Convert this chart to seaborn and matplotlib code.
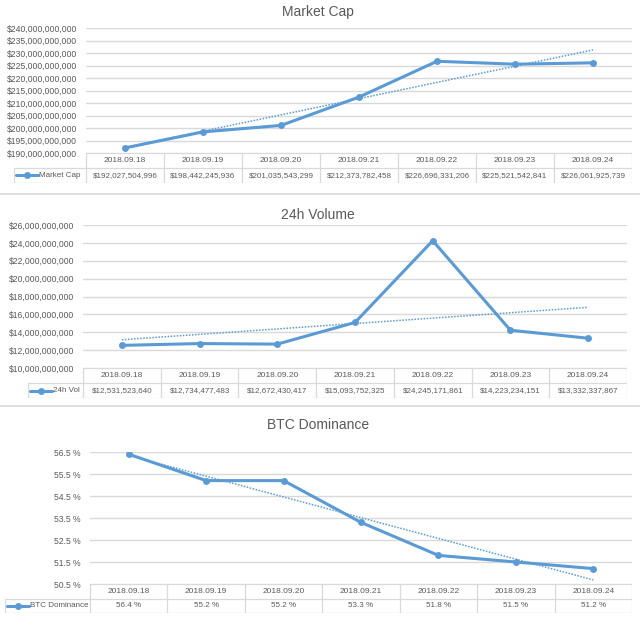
import matplotlib
matplotlib.use("Agg")
import matplotlib.pyplot as plt
import seaborn as sns
import numpy as np
import pandas as pd

# data
dates = ["2018.09.18", "2018.09.19", "2018.09.20", "2018.09.21",
         "2018.09.22", "2018.09.23", "2018.09.24"]
market_cap = [192027504996, 198442245936, 201035543299, 212373782458,
              226696331206, 225521542841, 226061925739]
volume_24h = [12531523640, 12734477483, 12672430417, 15093752325,
              24245171861, 14223234151, 13332337867]
btc_dominance = [56.4, 55.2, 55.2, 53.3, 51.8, 51.5, 51.2]

sns.set_style("white")
plt.rcParams["font.family"] = ["Liberation Sans", "DejaVu Sans"]

BLUE = "#5B9BD5"
GRID = "#D9D9D9"
TXT = "#595959"
W, H = 640, 625

fig = plt.figure(figsize=(6.4, 6.25), dpi=100)


def px_axes(l, t, r, b):
    return fig.add_axes([l / W, 1 - b / H, (r - l) / W, (b - t) / H])


def panel(values, title, label, ylim, step, fmt_tick, fmt_val,
          left, right, top, bottom, row_h, leg_left, title_y):
    ax = px_axes(left, top, right, bottom)
    df = pd.DataFrame({"x": np.arange(len(dates)), "y": values})
    sns.regplot(data=df, x="x", y="y", ax=ax, scatter=False, ci=None,
                truncate=True, color=BLUE,
                line_kws={"lw": 1.1, "ls": (0, (1, 1))})
    sns.lineplot(data=df, x="x", y="y", ax=ax, color=BLUE, lw=2.2,
                 marker="o", markersize=5, markeredgewidth=0)
    ax.set_xlim(-0.5, len(dates) - 0.5)
    ax.set_ylim(*ylim)
    ticks = np.arange(ylim[0], ylim[1] + step / 2, step)
    ax.set_yticks(ticks)
    ax.set_yticklabels([fmt_tick(t) for t in ticks], color=TXT, fontsize=6.2)
    ax.tick_params(axis="y", length=0, pad=6.5)
    ax.set_xticks([])
    ax.set_xlabel("")
    ax.set_ylabel("")
    for s in ax.spines.values():
        s.set_visible(False)
    ax.grid(axis="y", color=GRID, lw=1)
    ax.set_axisbelow(True)

    # data table under the plot
    tax = px_axes(leg_left, bottom, right, bottom + 2 * row_h)
    colw = (right - left) / len(dates)
    x0 = -0.5 - (left - leg_left) / colw
    tax.set_xlim(x0, len(dates) - 0.5)
    tax.set_ylim(0, 2)
    tax.axis("off")
    xe = np.arange(len(dates) + 1) - 0.5
    for xv in xe:
        tax.plot([xv, xv], [0, 2], color=GRID, lw=0.9)
    tax.plot([x0, x0], [0, 1], color=GRID, lw=0.9)
    tax.plot([-0.5, xe[-1]], [2, 2], color=GRID, lw=0.9)
    tax.plot([x0, xe[-1]], [1, 1], color=GRID, lw=0.9)
    tax.plot([x0, xe[-1]], [0, 0], color=GRID, lw=0.9)
    for i, (d, v) in enumerate(zip(dates, values)):
        tax.text(i, 1.5, d, ha="center", va="center", fontsize=6, color=TXT)
        tax.text(i, 0.5, fmt_val(v), ha="center", va="center", fontsize=5.8, color=TXT)
    # legend key in the first cell
    ks = x0 + 2 / colw
    ke = ks + 22 / colw
    tax.plot([ks, ke], [0.5, 0.5], color=BLUE, lw=2.2)
    tax.plot([(ks + ke) / 2], [0.5], "o", color=BLUE, ms=5, mew=0)
    tax.text(ke + 1 / colw, 0.5, label, ha="left", va="center", fontsize=5.8, color=TXT)

    fig.text(318 / W, 1 - title_y / H, title,
             ha="center", va="center", fontsize=10, color=TXT)


panel(market_cap, "Market Cap", "Market Cap", (190e9, 240e9), 5e9,
      lambda t: f"${t:,.0f}", lambda v: f"${v:,.0f}",
      86, 632, 28, 153, 15, 14, 12)
panel(volume_24h, "24h Volume", "24h Vol", (10e9, 26e9), 2e9,
      lambda t: f"${t:,.0f}", lambda v: f"${v:,.0f}",
      83, 627, 225, 368, 15, 28, 215)
panel(btc_dominance, "BTC Dominance", "BTC Dominance", (50.5, 56.5), 1.0,
      lambda t: f"{t:.1f} %", lambda v: f"{v:.1f} %",
      90, 632, 452, 584, 14.5, 5, 425)

# thin separators between the stacked charts
for yy in (194, 406):
    fig.add_artist(plt.Line2D([0, 1], [1 - yy / H, 1 - yy / H], color="#D9D9D9", lw=1.2))

fig.savefig("out.png", dpi=100, facecolor="white")
